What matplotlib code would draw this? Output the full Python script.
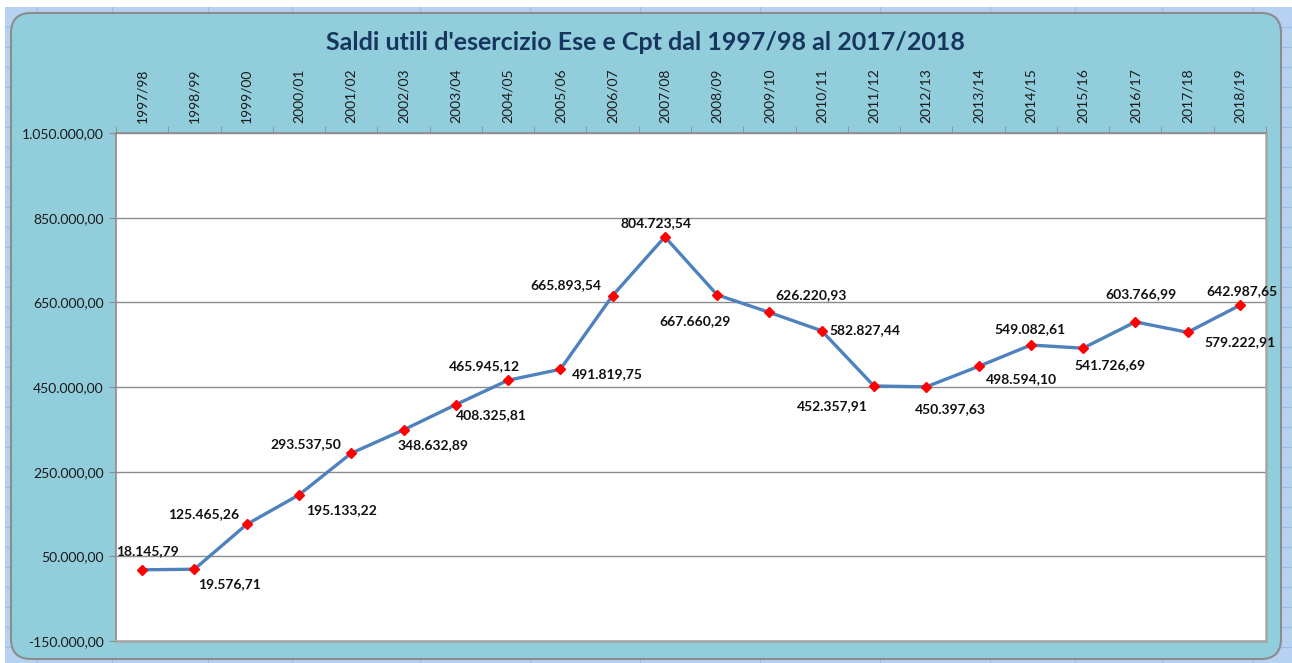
import matplotlib
matplotlib.use("Agg")
import matplotlib.pyplot as plt
from matplotlib.patches import FancyBboxPatch, Rectangle
from matplotlib.transforms import IdentityTransform
from matplotlib.ticker import FixedLocator, FuncFormatter

plt.rcParams['font.family'] = ['Lato', 'DejaVu Sans']

# esercizi e saldi utili
anni = ['1997/98', '1998/99', '1999/00', '2000/01', '2001/02', '2002/03',
        '2003/04', '2004/05', '2005/06', '2006/07', '2007/08', '2008/09',
        '2009/10', '2010/11', '2011/12', '2012/13', '2013/14', '2014/15',
        '2015/16', '2016/17', '2017/18', '2018/19']
saldi = [18145.79, 19576.71, 125465.26, 195133.22, 293537.50, 348632.89,
         408325.81, 465945.12, 491819.75, 665893.54, 804723.54, 667660.29,
         626220.93, 582827.44, 452357.91, 450397.63, 498594.10, 549082.61,
         541726.69, 603766.99, 579222.91, 642987.65]
# posizione delle etichette rispetto al punto (pixel, x destra / y giu)
off_etichette = [(5, -19), (35, 15), (-43, -10), (43, 15), (-45, -9), (30, 15),
                 (36, 10), (-24, -14), (47, 5), (-47, -11), (-9, -14), (-22, 26),
                 (42, -17), (43, -1), (-42, 20), (24, 22), (43, 13), (-1, -16),
                 (27, 17), (6, -28), (52, 10), (2, -14)]
y_ticks = [-150000, 50000, 250000, 450000, 650000, 850000, 1050000]


def formato_it(v):
    s = f"{v:,.2f}"
    return s.replace(",", "X").replace(".", ",").replace("X", ".")


W, H = 1292, 663
fig = plt.figure(figsize=(W / 100, H / 100), dpi=100)
fig.patch.set_facecolor('white')

# foglio excel dietro al grafico
fig.add_artist(Rectangle((5, 0), W - 5, H - 7, transform=IdentityTransform(),
                         facecolor='#B7D1F0', edgecolor='none', zorder=-3))
for yy in range(H - 27, 0, -20):
    fig.add_artist(plt.Line2D([5, W], [yy, yy], transform=IdentityTransform(),
                              color='#9DBDE6', lw=0.8, zorder=-2))
for xx in [37, 112, 208, 292, 420, 530, 640, 760, 880, 990, 1075, 1162, 1253]:
    fig.add_artist(plt.Line2D([xx, xx], [0, H - 7], transform=IdentityTransform(),
                              color='#9DBDE6', lw=0.8, zorder=-2))

# area del grafico
fig.add_artist(FancyBboxPatch((11, 4), 1270, 646, transform=IdentityTransform(),
                              boxstyle='round,pad=0,rounding_size=20',
                              facecolor='#92CDDC', edgecolor='#8C8C8C', lw=1.5,
                              zorder=-1))

ax = fig.add_axes([116 / W, 1 - 641 / H, (1266 - 116) / W, (641 - 133) / H])
ax.set_facecolor('white')

x = list(range(len(anni)))
ax.plot(x, saldi, color='#4F81BD', lw=2.4, marker='D', markersize=5.5,
        markerfacecolor='#FF0000', markeredgecolor='#FF0000', zorder=3)

for xi, v, (dx, dy) in zip(x, saldi, off_etichette):
    ax.annotate(formato_it(v), (xi, v), xytext=(dx, -dy),
                textcoords='offset pixels', ha='center', va='center',
                fontsize=10, fontweight='bold', color='#111111',
                annotation_clip=False, zorder=4)

ax.set_xlim(-0.5, len(anni) - 0.5)
ax.set_ylim(-150000, 1050000)

ax.xaxis.tick_top()
ax.set_xticks(x)
ax.set_xticklabels(anni, rotation=90, fontsize=10, color='#1A1A1A')
ax.xaxis.set_minor_locator(FixedLocator([i - 0.5 for i in range(len(anni) + 1)]))
ax.tick_params(axis='x', which='major', length=0, pad=7)
ax.tick_params(axis='x', which='minor', length=5, color='#8C8C8C', direction='out')

ax.set_yticks(y_ticks)
ax.yaxis.set_major_formatter(FuncFormatter(lambda v, p: formato_it(v)))
ax.tick_params(axis='y', length=5, color='#8C8C8C', direction='out',
               labelsize=10, labelcolor='#1A1A1A', pad=4)
ax.grid(axis='y', color='#8C8C8C', lw=1)
ax.set_axisbelow(True)

for side in ['left', 'top']:
    ax.spines[side].set_color('#8C8C8C')
    ax.spines[side].set_linewidth(1.2)
for side in ['right', 'bottom']:
    ax.spines[side].set_color('#A6A6A6')
    ax.spines[side].set_linewidth(1.8)

fig.text(645 / W, 1 - 43 / H,
         "Saldi utili d'esercizio Ese e Cpt dal 1997/98 al 2017/2018",
         ha='center', va='center', fontsize=18, fontweight='bold',
         color='#17365D')

fig.savefig('out.png', dpi=100, facecolor=fig.get_facecolor())
